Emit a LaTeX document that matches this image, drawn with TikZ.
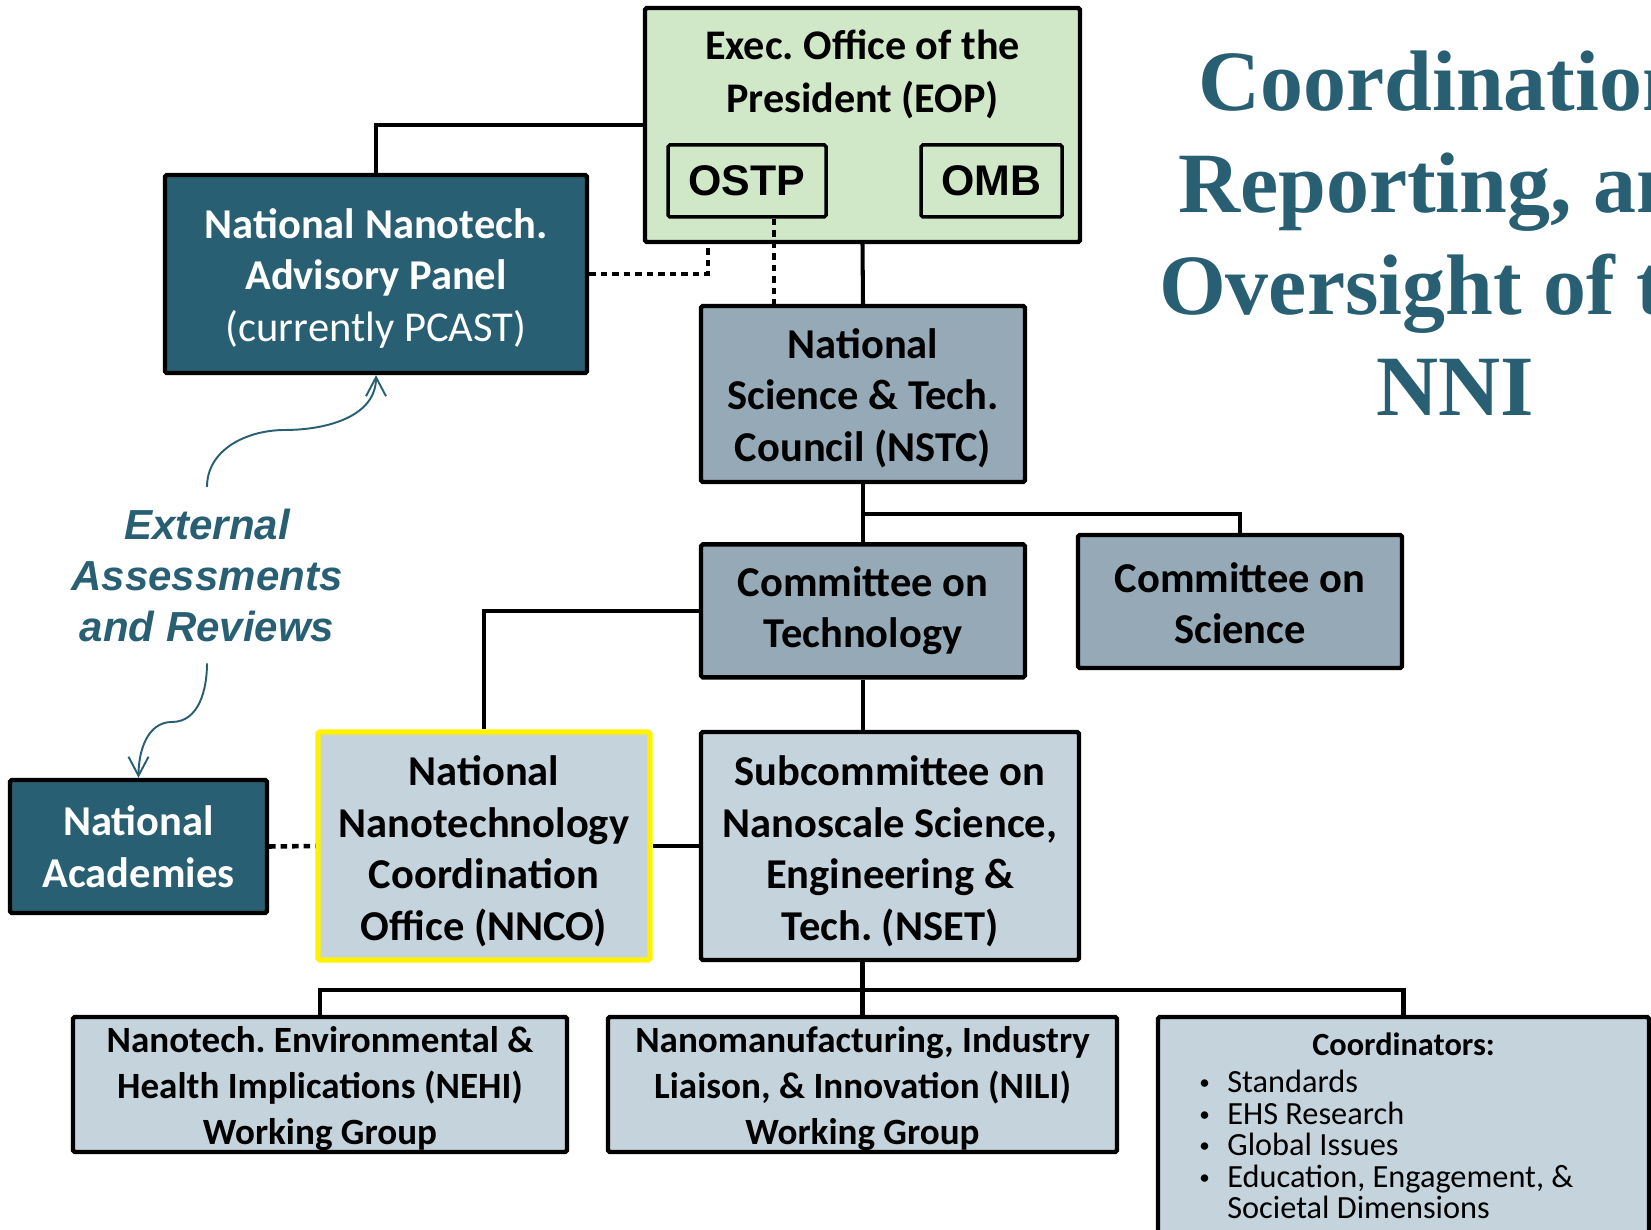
\documentclass[tikz,border=0pt]{standalone}
\usepackage{fontspec}
\setmainfont{Carlito}
\newfontfamily\arialfont{Liberation Sans}
\newfontfamily\timesfont{Liberation Serif}
\usetikzlibrary{arrows.meta, positioning, calc}
\definecolor{nniteal}{RGB}{41,95,115}
\definecolor{nstcgrey}{RGB}{149,169,183}
\definecolor{nsetgrey}{RGB}{197,211,220}
\definecolor{eopgreen}{RGB}{209,232,200}
% invisible strut that pushes the first line of a box down a little
\newcommand{\boxstrut}[1]{\rule{0pt}{#1}}

\begin{document}
\begin{tikzpicture}[
    orgbox/.style={draw, line width=2.5pt, rounded corners=1pt, align=center, inner sep=0pt},
    tealbox/.style={orgbox, fill=nniteal, text=white},
    greybox/.style={orgbox, fill=nstcgrey},
    palebox/.style={orgbox, fill=nsetgrey},
    bigtext/.style={font=\fontsize{24.2}{29.3}\selectfont\bfseries},
    grouptext/.style={font=\fontsize{21.1}{25.9}\selectfont\bfseries},
    coordtext/.style={font=\fontsize{18.4}{17.9}\selectfont},
    link/.style={line width=2.3pt},
    dotlink/.style={line width=2.6pt, dash pattern=on 0.13cm off 0.1cm},
    review/.style={nniteal, line width=1.1pt, -{Straight Barb[length=0.38cm, width=0.4cm]}}
]
    \useasboundingbox (0,0) rectangle (33.02,24.60);
    \clip (0,0) rectangle (33.02,24.60);

    % Executive office with OSTP and OMB
    \node[orgbox, fill=eopgreen, minimum width=8.70cm, minimum height=4.68cm] (EOP) at (17.25,22.10) {};
    \node[below=0.48cm of EOP.north, inner sep=0pt, align=center, font=\fontsize{24}{30.2}\selectfont\bfseries] (eoplabel) {Exec.\ Office of the\\President (EOP)};
    \node[orgbox, line width=2pt, minimum width=3.16cm, minimum height=1.44cm, font=\arialfont\bfseries\fontsize{24.4}{27}\selectfont] (OSTP) at (14.94,20.98) {OSTP};
    \node[orgbox, line width=2pt, minimum width=2.82cm, minimum height=1.44cm, font=\arialfont\bfseries\fontsize{24.4}{27}\selectfont] (OMB) at (19.83,20.98) {OMB};

    % Advisory panel and academies
    \node[tealbox, bigtext, minimum width=8.44cm, minimum height=3.96cm] (NNAP) at (7.52,19.12) {\boxstrut{22pt}National Nanotech.\\Advisory Panel\\{\mdseries (currently PCAST)}};
    \node[tealbox, bigtext, minimum width=5.14cm, minimum height=2.66cm] (NA) at (2.77,7.67) {National\\Academies};

    % Council and committees
    \node[greybox, bigtext, minimum width=6.48cm, minimum height=3.52cm] (NSTC) at (17.26,16.72) {\boxstrut{21.5pt}National\\Science \& Tech.\\Council (NSTC)};
    \node[greybox, bigtext, minimum width=6.48cm, minimum height=2.66cm, below=1.16cm of NSTC] (CT) {Committee on\\Technology};
    \node[greybox, bigtext, minimum width=6.48cm, minimum height=2.66cm] (CS) at (24.80,12.57) {\boxstrut{19pt}Committee on\\Science};

    % Coordination office and subcommittee
    \node[palebox, bigtext, draw=yellow, line width=3pt, minimum width=6.64cm, minimum height=4.56cm] (NNCO) at (9.68,7.68) {\boxstrut{23pt}National\\Nanotechnology\\Coordination\\Office (NNCO)};
    \node[palebox, bigtext, minimum width=7.56cm, minimum height=4.56cm] (NSET) at (17.80,7.68) {\boxstrut{23pt}Subcommittee on\\Nanoscale Science,\\Engineering \&\\Tech.\ (NSET)};

    % Working groups and coordinators
    \node[palebox, grouptext, minimum width=9.88cm, minimum height=2.70cm] (NEHI) at (6.40,2.91) {\boxstrut{19.5pt}Nanotech.\ Environmental \&\\Health Implications (NEHI)\\Working Group};
    \node[palebox, grouptext, minimum width=10.18cm, minimum height=2.70cm] (NILI) at (17.25,2.91) {\boxstrut{19.5pt}Nanomanufacturing, Industry\\Liaison, \& Innovation (NILI)\\Working Group};
    \node[palebox, minimum width=9.82cm, minimum height=4.86cm] (COORD) at (28.07,1.83) {};
    \node[below=0.36cm of COORD.north, inner sep=0pt, font=\fontsize{18.4}{17.9}\selectfont\bfseries] (coordlabel) {Coordinators:};
    \node[anchor=north west, inner sep=0pt, align=left, coordtext] (coordlist) at (23.98,3.20)
        {\makebox[0.56cm][l]{\raisebox{1.6pt}{\fontsize{12}{12}\selectfont\textbullet}}Standards\\
         \makebox[0.56cm][l]{\raisebox{1.6pt}{\fontsize{12}{12}\selectfont\textbullet}}EHS Research\\
         \makebox[0.56cm][l]{\raisebox{1.6pt}{\fontsize{12}{12}\selectfont\textbullet}}Global Issues\\
         \makebox[0.56cm][l]{\raisebox{1.6pt}{\fontsize{12}{12}\selectfont\textbullet}}Education, Engagement, \&\\
         \hspace*{0.56cm}Societal Dimensions};

    % Review label and title
    \node[anchor=north, inner sep=0pt, align=center, text=nniteal, font=\arialfont\bfseries\itshape\fontsize{23.9}{29}\selectfont] (extlabel) at (4.14,14.42) {External\\Assessments\\and Reviews};
    \node[anchor=north, inner sep=0pt, align=center, text=nniteal, font=\timesfont\bfseries\fontsize{48.9}{57.8}\selectfont] (title) at (29.10,23.58) {Coordination,\\Reporting, and\\Oversight of the\\NNI};

    % Reporting lines from the EOP
    \draw[link] (EOP.west) -| (NNAP.north);
    \draw[dotlink] (NNAP.east) -| ([xshift=1.3cm]EOP.south west);
    \coordinate (ostpdrop) at ([xshift=0.54cm]OSTP.south);
    \draw[dotlink] (ostpdrop) -- (ostpdrop |- NSTC.north);
    \draw[link] (EOP.south) -- (NSTC.north);

    % Council to committees
    \draw[link] (NSTC.south) -- (CT.north);
    \draw[link] (NSTC.south) -- ++(0,-0.6) -| (CS.north);
    \draw[link] (CT.west) -| (NNCO.north);
    \draw[link] (CT.south) -- (CT.south |- NSET.north);
    \draw[link] (NNCO.east) -- (NSET.west);
    \draw[dotlink] (NA.east) -- (NNCO.west);

    % Subcommittee to working groups
    \draw[link] (NILI.north |- NSET.south) -- (NILI.north);
    \draw[link] (NEHI.north) -- ++(0,0.5) -| (COORD.north);

    % External assessments
    \coordinate (upbend) at (5.70,16.00);
    \coordinate (downbend) at (3.44,10.16);
    \draw[review] ([yshift=0.44cm]extlabel.north) to[out=90, in=180] (upbend) to[out=0, in=270] (NNAP.south);
    \draw[review] ([yshift=-0.42cm]extlabel.south) to[out=270, in=0] (downbend) to[out=180, in=90] (NA.north);
\end{tikzpicture}
\end{document}
